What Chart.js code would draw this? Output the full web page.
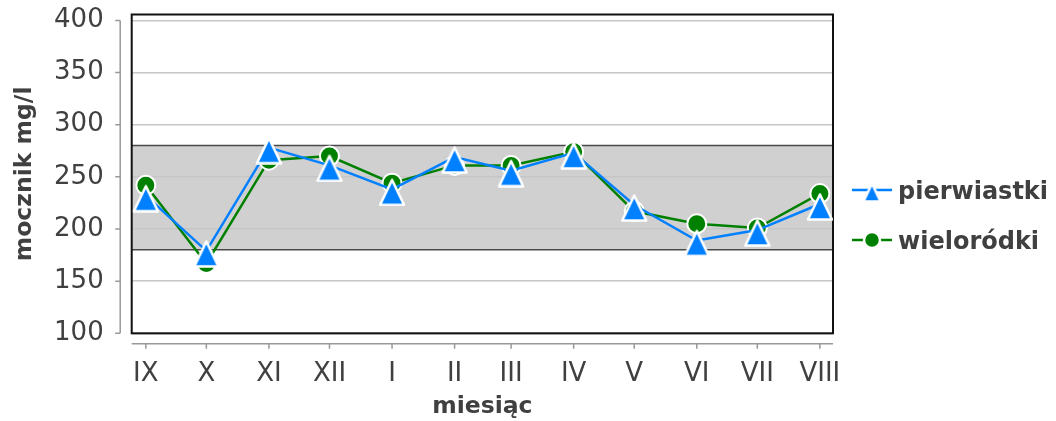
<!DOCTYPE html>
<html>
<head>
<meta charset="utf-8">
<script src="https://cdn.jsdelivr.net/npm/chart.js@4.4.0/dist/chart.umd.min.js"></script>
<style>
  html, body { margin: 0; padding: 0; background: #fff; }
</style>
</head>
<body>
<canvas id="chart" width="1056" height="421"></canvas>
<script>
// months on the x axis, placed by day counted from 1 September
const months = ['IX', 'X', 'XI', 'XII', 'I', 'II', 'III', 'IV', 'V', 'VI', 'VII', 'VIII'];
const monthDays = [0, 30, 61, 91, 122, 153, 181, 212, 242, 273, 303, 334];

// mocznik mg/l
const pierwiastki = [232, 179, 278, 261, 238, 269, 256, 273, 223, 189, 199, 224];
const wielorodki = [242, 167, 266, 270, 244, 261, 261, 274, 217, 205, 201, 234];

// reference range (grey band) and y ticks
const normLow = 180;
const normHigh = 280;
const yTicks = [100, 150, 200, 250, 300, 350, 400];

const textColor = '#404040';
const blue = '#0080ff';
const green = '#008000';

// triangle marker whose centre sits a bit above the middle, like the original
function makeTriangle(w, h) {
    const above = Math.round(h * 0.43), below = h - above;
    const c = document.createElement('canvas');
    c.width = w + 2;
    c.height = below * 2;
    const ctx = c.getContext('2d');
    const cx = c.width / 2, cy = c.height / 2;
    ctx.beginPath();
    ctx.moveTo(cx, cy - above + 2.5);
    ctx.lineTo(cx + w / 2 - 2, cy + below - 1.5);
    ctx.lineTo(cx - w / 2 + 2, cy + below - 1.5);
    ctx.closePath();
    ctx.fillStyle = blue;
    ctx.fill();
    ctx.lineJoin = 'round';
    ctx.lineWidth = 2.5;
    ctx.strokeStyle = '#fff';
    ctx.stroke();
    return c;
}
const triBig = makeTriangle(28, 29);
const triSmall = makeTriangle(21, 22);

const bandPlugin = {
    id: 'band',
    beforeDraw(chart) {
        const {ctx, chartArea: a, scales: {y}} = chart;
        const top = y.getPixelForValue(normHigh), bot = y.getPixelForValue(normLow);
        ctx.save();
        ctx.fillStyle = '#d0d0d0';
        ctx.fillRect(a.left, top, a.right - a.left, bot - top);
        ctx.restore();
    },
    beforeDatasetsDraw(chart) {
        const {ctx, chartArea: a, scales: {y}} = chart;
        ctx.save();
        ctx.strokeStyle = '#4a4a4a';
        ctx.lineWidth = 1.5;
        [normHigh, normLow].forEach(function(v) {
            const py = y.getPixelForValue(v);
            ctx.beginPath();
            ctx.moveTo(a.left, py);
            ctx.lineTo(a.right, py);
            ctx.stroke();
        });
        // plot frame
        ctx.strokeStyle = '#111';
        ctx.lineWidth = 2;
        ctx.strokeRect(a.left, a.top, a.right - a.left, a.bottom - a.top);
        ctx.restore();
    }
};

// detached axis lines with small ticks
const axesPlugin = {
    id: 'axes',
    afterDraw(chart) {
        const {ctx, chartArea: a, scales: {x, y}} = chart;
        const ax = a.left - 11.5, ay = a.bottom + 10.5;
        ctx.save();
        ctx.strokeStyle = '#999';
        ctx.lineWidth = 1.5;
        ctx.beginPath();
        ctx.moveTo(ax, y.getPixelForValue(yTicks[yTicks.length - 1]));
        ctx.lineTo(ax, y.getPixelForValue(yTicks[0]));
        yTicks.forEach(function(v) {
            const py = y.getPixelForValue(v);
            ctx.moveTo(ax - 5, py);
            ctx.lineTo(ax, py);
        });
        ctx.moveTo(a.left, ay);
        ctx.lineTo(a.right, ay);
        monthDays.forEach(function(d) {
            const px = x.getPixelForValue(d);
            ctx.moveTo(px, ay);
            ctx.lineTo(px, ay + 5);
        });
        ctx.stroke();
        ctx.restore();
    }
};

// legend with line segment through the marker
const legendPlugin = {
    id: 'sideLegend',
    afterDraw(chart) {
        const ctx = chart.ctx;
        const rows = [190, 240];
        ctx.save();
        chart.data.datasets.forEach(function(ds, i) {
            const y = rows[i];
            ctx.strokeStyle = ds.borderColor;
            ctx.lineWidth = 2.5;
            ctx.beginPath();
            ctx.moveTo(852, y);
            ctx.lineTo(892, y);
            ctx.stroke();
            if (i === 0) {
                ctx.drawImage(triSmall, 872 - triSmall.width / 2, y - triSmall.height / 2);
            } else {
                ctx.beginPath();
                ctx.arc(872, y, 8, 0, Math.PI * 2);
                ctx.fillStyle = ds.pointBackgroundColor;
                ctx.fill();
                ctx.lineWidth = 2.5;
                ctx.strokeStyle = '#fff';
                ctx.stroke();
            }
            ctx.fillStyle = textColor;
            ctx.font = 'bold 24px "DejaVu Sans"';
            ctx.textBaseline = 'alphabetic';
            ctx.fillText(ds.label, 898, y + 8.5);
        });
        ctx.restore();
    }
};

const ctx = document.getElementById('chart');
new Chart(ctx, {
    type: 'line',
    data: {
        datasets: [{
            label: 'pierwiastki',
            data: monthDays.map(function(d, i) { return {x: d, y: pierwiastki[i]}; }),
            borderColor: blue,
            borderWidth: 2.5,
            pointStyle: triBig,
            pointRadius: 12,
            pointBackgroundColor: blue,
            tension: 0
        }, {
            label: 'wieloródki',
            data: monthDays.map(function(d, i) { return {x: d, y: wielorodki[i]}; }),
            borderColor: green,
            borderWidth: 2.5,
            pointStyle: 'circle',
            pointRadius: 9.5,
            pointBorderWidth: 2,
            pointBorderColor: '#fff',
            pointBackgroundColor: green,
            tension: 0
        }]
    },
    options: {
        responsive: false,
        animation: false,
        devicePixelRatio: 1,
        layout: { padding: { top: 13, right: 223, left: 0, bottom: 0 } },
        plugins: {
            legend: { display: false },
            tooltip: { enabled: false }
        },
        scales: {
            x: {
                type: 'linear',
                min: -7,
                max: 340.5,
                afterBuildTicks: function(s) { s.ticks = monthDays.map(function(d) { return {value: d}; }); },
                afterFit: function(s) {
                    s.height = 87.7;
                    s.paddingLeft = 0;
                    s.paddingRight = 0;
                },
                ticks: {
                    callback: function(v, i) { return months[i]; },
                    autoSkip: false,
                    maxRotation: 0,
                    padding: 25,
                    color: textColor,
                    font: { family: 'DejaVu Sans', size: 26 }
                },
                grid: { display: false, drawTicks: false },
                border: { display: false },
                title: {
                    display: true,
                    text: 'miesiąc',
                    color: textColor,
                    padding: 0,
                    font: { family: 'DejaVu Sans', size: 23.5, weight: 'bold' }
                }
            },
            y: {
                min: 100,
                max: 405.7,
                afterBuildTicks: function(s) { s.ticks = yTicks.map(function(v) { return {value: v}; }); },
                afterFit: function(s) {
                    s.width = 131.7;
                    s.paddingTop = 0;
                    s.paddingBottom = 0;
                },
                ticks: {
                    padding: 28,
                    color: textColor,
                    font: { family: 'DejaVu Sans', size: 26 }
                },
                grid: { color: '#c6c6c6', lineWidth: 1.5, drawTicks: false },
                border: { display: false },
                title: {
                    display: true,
                    text: 'mocznik mg/l',
                    color: textColor,
                    padding: { top: 11, bottom: 0 },
                    font: { family: 'DejaVu Sans', size: 23.5, weight: 'bold' }
                }
            }
        }
    },
    plugins: [bandPlugin, axesPlugin, legendPlugin]
});
</script>
</body>
</html>
